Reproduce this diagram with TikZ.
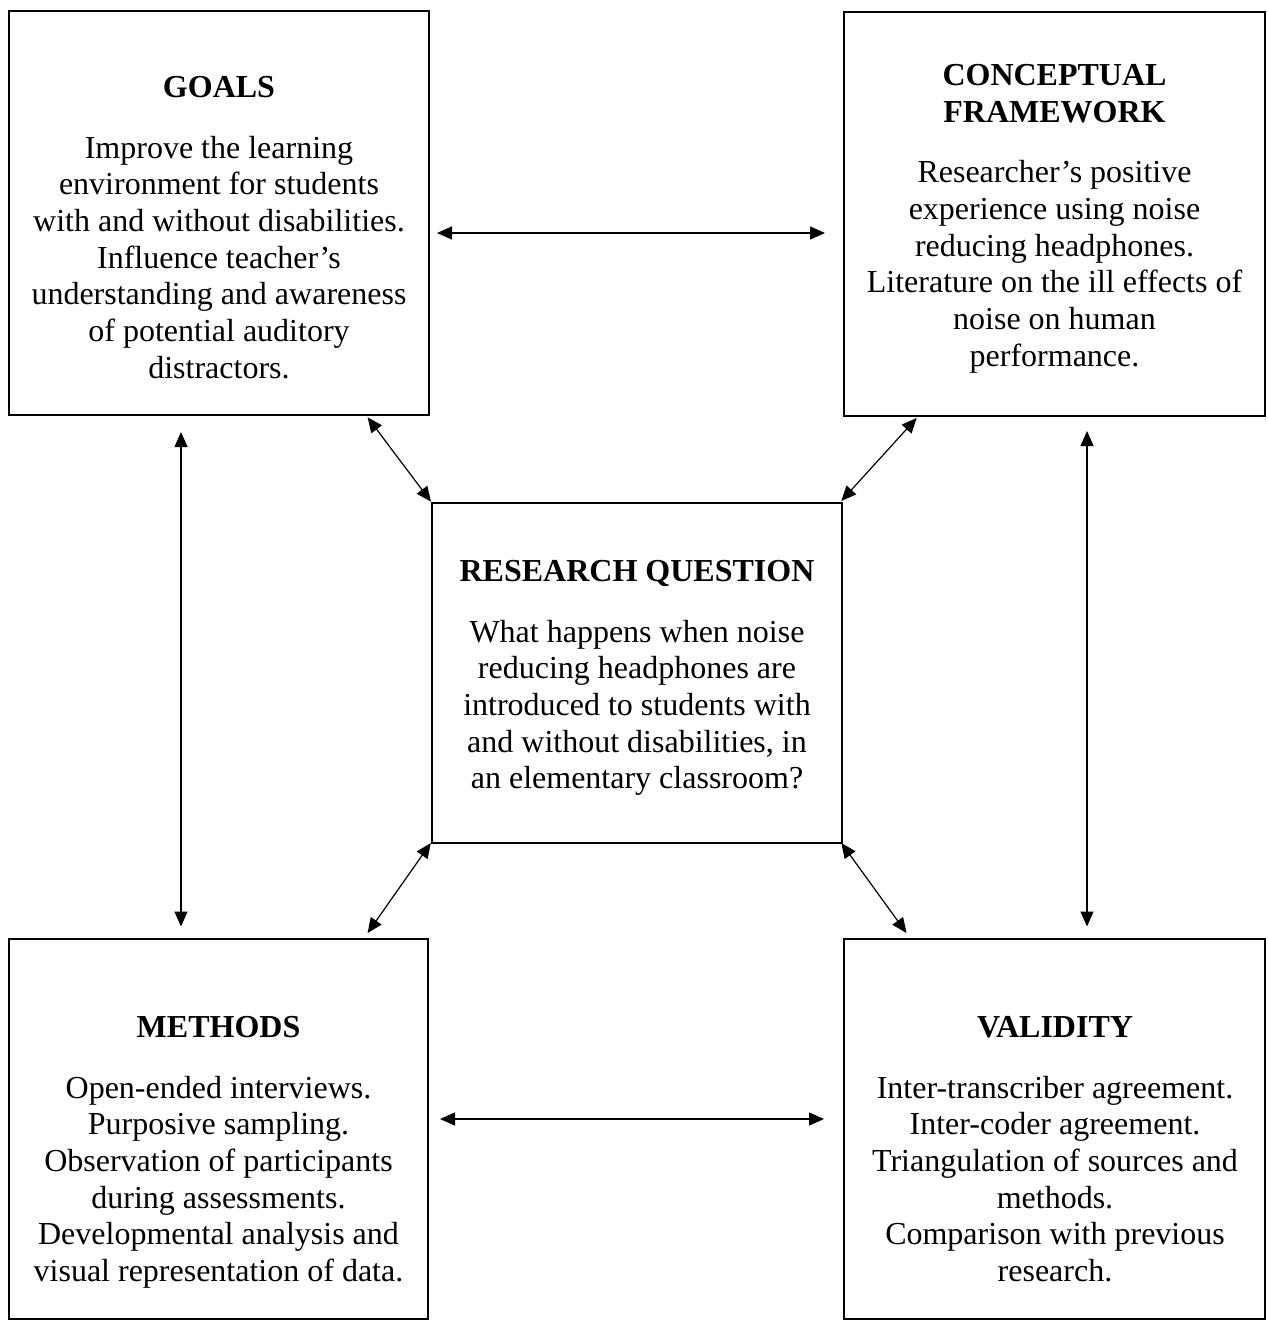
\documentclass[tikz,border=0pt]{standalone}
\usepackage{fontspec}
\setmainfont{Liberation Serif}
\usetikzlibrary{arrows.meta}
\tikzset{
  box/.style={draw=black, line width=1.25pt, inner sep=0pt, outer sep=0pt, anchor=north west, rectangle},
  txt/.style={align=center, inner sep=0pt, anchor=north, font=\fontsize{16}{18.35}\selectfont},
  link/.style={line width=0.6pt, {Triangle[length=7.5pt,width=6.5pt]}-{Triangle[length=7.5pt,width=6.5pt]}}
}
\begin{document}
\begin{tikzpicture}[x=0.5pt,y=-0.5pt]
\useasboundingbox (0,0) rectangle (1267,1320);
\fill[white] (0,0) rectangle (1267,1320);
% boxes
\node[box, minimum width=210pt, minimum height=202pt] (goals) at (9,11) {};
\node[box, minimum width=210.5pt, minimum height=202pt] (cf) at (844,12) {};
\node[box, minimum width=205pt, minimum height=170pt] (rq) at (432,503) {};
\node[box, minimum width=209.5pt, minimum height=190pt] (methods) at (9,939) {};
\node[box, minimum width=210.5pt, minimum height=190pt] (validity) at (844,939) {};
% texts
\node[txt] (goalsT) at (219,71.3) {\strut\textbf{GOALS}\\[12pt]
Improve the learning\\ environment for students\\ with and without disabilities.\\ Influence teacher’s\\ understanding and awareness\\ of potential auditory\\ distractors.};
\node[txt] (cfT) at (1054.5,59.3) {\strut\textbf{CONCEPTUAL}\\ \textbf{FRAMEWORK}\\[12pt]
Researcher’s positive\\ experience using noise\\ reducing headphones.\\ Literature on the ill effects of\\ noise on human\\ performance.};
\node[txt] (rqT) at (637,555.3) {\strut\textbf{RESEARCH QUESTION}\\[12pt]
What happens when noise\\ reducing headphones are\\ introduced to students with\\ and without disabilities, in\\ an elementary classroom?};
\node[txt] (methodsT) at (218.5,1011.3) {\strut\textbf{METHODS}\\[12pt]
Open-ended interviews.\\ Purposive sampling.\\ Observation of participants\\ during assessments.\\ Developmental analysis and\\ visual representation of data.};
\node[txt] (validityT) at (1055,1011.3) {\strut\textbf{VALIDITY}\\[12pt]
Inter-transcriber agreement.\\ Inter-coder agreement.\\ Triangulation of sources and\\ methods.\\ Comparison with previous\\ research.};
% connectors
\draw[link] ([shift={(8,20)}]goals.east) -- ([shift={(-19,19)}]cf.west);
\draw[link] ([shift={(12,-10)}]methods.east) -- ([shift={(-20,-10)}]validity.west);
\draw[link] ([shift={(-38,17)}]goals.south) -- ([shift={(-37.5,-12.5)}]methods.north);
\draw[link] ([shift={(32.5,15)}]cf.south) -- ([shift={(32.5,-12.5)}]validity.north);
\draw[link] ([shift={(-61.4,2.3)}]goals.south east) -- ([shift={(-1,-1.3)}]rq.north west);
\draw[link] ([shift={(72.7,2)}]cf.south west) -- ([shift={(-0.7,-2)}]rq.north east);
\draw[link] ([shift={(-1.2,0)}]rq.south west) -- ([shift={(-60.4,-6)}]methods.north east);
\draw[link] ([shift={(-0.7,0)}]rq.south east) -- ([shift={(62.5,-6)}]validity.north west);
\end{tikzpicture}
\end{document}
